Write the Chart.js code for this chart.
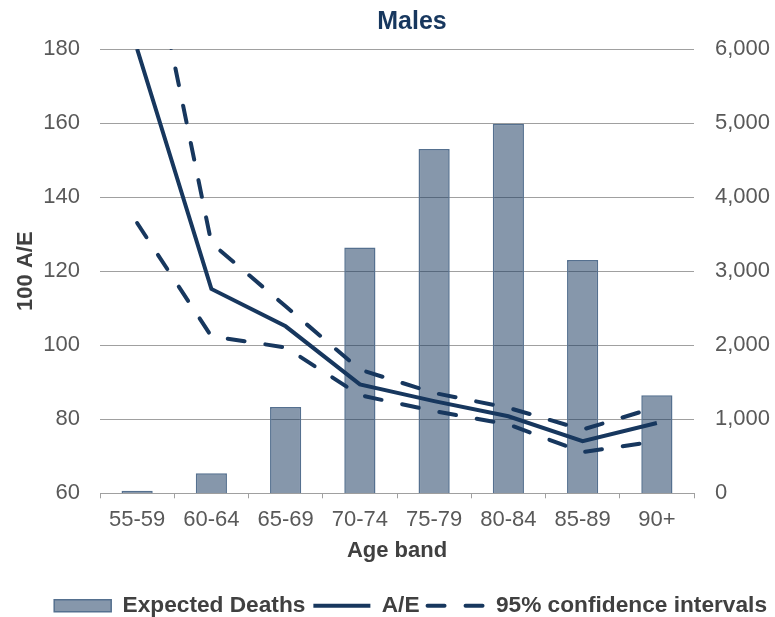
<!DOCTYPE html>
<html>
<head>
<meta charset="utf-8">
<script src="https://cdn.jsdelivr.net/npm/chart.js@4.4.1/dist/chart.umd.min.js"></script>
<style>
  html, body { margin: 0; padding: 0; background: #ffffff; }
  #wrap { width: 775px; height: 617px; }
</style>
</head>
<body>
<div id="wrap"><canvas id="chart" width="775" height="617"></canvas></div>
<script>
// Age bands on the category axis
const ageBands = ['55-59', '60-64', '65-69', '70-74', '75-79', '80-84', '85-89', '90+'];

// Expected deaths per band (right axis)
const expectedDeaths = [35, 270, 1165, 3320, 4650, 4990, 3150, 1325];

// Actual / expected x 100 with its 95% confidence band (left axis)
const aeRatio = [180, 115.2, 105.1, 89.4, 84.9, 80.8, 74.1, 79.0];
const ciUpper = [225, 127.6, 110.5, 93.4, 87.1, 83.1, 77.2, 83.3];
const ciLower = [133, 102.4, 99.4, 86.5, 82.2, 78.6, 71.1, 74.1];

// Tick values for both value axes
const aeTicks = [60, 80, 100, 120, 140, 160, 180];
const deathTicks = [0, 1000, 2000, 3000, 4000, 5000, 6000];

const FONT = '"Liberation Sans", Arial, Helvetica, sans-serif';
const NAVY = '#17375E';
const GRID = '#A0A0A0';
const TICK_TEXT = '#595959';
const LABEL_TEXT = '#404040';
const LINE_WIDTH = 4;

Chart.defaults.font.family = FONT;

// Chart heading, centred a little right of the plot centre
const headingPlugin = {
  id: 'heading',
  afterDraw(chart) {
    const { ctx, chartArea } = chart;
    ctx.save();
    ctx.font = 'bold 25px ' + FONT;
    ctx.fillStyle = NAVY;
    ctx.textAlign = 'center';
    ctx.textBaseline = 'middle';
    ctx.fillText('Males', (chartArea.left + chartArea.right) / 2 + 15, chartArea.top - 27);
    ctx.restore();
  }
};

const setTicks = (values) => (scale) => {
  scale.ticks = values.map(v => ({ value: v }));
};

new Chart(document.getElementById('chart'), {
  data: {
    labels: ageBands,
    datasets: [
      {
        type: 'bar',
        label: 'Expected Deaths',
        data: expectedDeaths,
        yAxisID: 'y2',
        backgroundColor: 'rgba(23, 55, 94, 0.52)',
        borderColor: '#55708F',
        borderWidth: 1.5,
        barPercentage: 0.42,
        categoryPercentage: 1,
        order: 1
      },
      {
        type: 'line',
        label: 'A/E',
        data: aeRatio,
        yAxisID: 'y',
        borderColor: NAVY,
        borderWidth: LINE_WIDTH,
        pointRadius: 0,
        tension: 0,
        fill: false,
        order: 0
      },
      {
        type: 'line',
        label: '95% confidence intervals',
        data: ciUpper,
        yAxisID: 'y',
        borderColor: NAVY,
        borderWidth: LINE_WIDTH,
        borderDash: [17, 21],
        borderCapStyle: 'round',
        pointRadius: 0,
        tension: 0,
        fill: false,
        order: 0
      },
      {
        type: 'line',
        label: '95% confidence intervals',
        data: ciLower,
        yAxisID: 'y',
        borderColor: NAVY,
        borderWidth: LINE_WIDTH,
        borderDash: [17, 21],
        borderCapStyle: 'round',
        pointRadius: 0,
        tension: 0,
        fill: false,
        order: 0
      }
    ]
  },
  options: {
    responsive: false,
    animation: false,
    devicePixelRatio: 1,
    layout: { padding: { top: 49, bottom: -10, left: 0, right: 0 } },
    plugins: {
      tooltip: { enabled: false },
      title: { display: false },
      legend: {
        position: 'bottom',
        align: 'end',
        labels: {
          usePointStyle: true,
          pointStyleWidth: 57,
          boxHeight: 12,
          padding: 8,
          color: LABEL_TEXT,
          font: { family: FONT, size: 22.7, weight: 'bold' },
          sort: (a, b) => a.datasetIndex - b.datasetIndex,
          filter: (item) => item.datasetIndex !== 3,
          generateLabels(chart) {
            const items = Chart.defaults.plugins.legend.labels.generateLabels(chart);
            items.forEach(item => {
              const ds = chart.data.datasets[item.datasetIndex];
              if (ds.type === 'bar') {
                item.pointStyle = 'rect';
                item.fillStyle = ds.backgroundColor;
                item.strokeStyle = ds.borderColor;
                item.lineWidth = ds.borderWidth;
                item.lineDash = [];
              } else {
                item.pointStyle = 'line';
                item.strokeStyle = ds.borderColor;
                item.lineWidth = ds.borderWidth;
                item.lineDash = ds.borderDash || [];
                item.lineCap = ds.borderCapStyle || 'butt';
              }
            });
            return items;
          }
        }
      }
    },
    scales: {
      x: {
        type: 'category',
        offset: true,
        grid: {
          offset: true,
          drawOnChartArea: false,
          drawTicks: true,
          tickLength: 5,
          color: GRID
        },
        border: { display: true, color: GRID, width: 1 },
        ticks: { color: TICK_TEXT, font: { size: 22 }, padding: 8, maxRotation: 0, autoSkip: false },
        title: {
          display: true,
          text: 'Age band',
          color: LABEL_TEXT,
          font: { size: 22, weight: 'bold' },
          padding: { top: 0, bottom: 21.8 }
        },
        afterFit(scale) { scale.height = 93; }
      },
      y: {
        position: 'left',
        min: 60,
        max: 180,
        afterBuildTicks: setTicks(aeTicks),
        grid: { color: GRID, drawTicks: false, lineWidth: 1 },
        border: { display: false },
        ticks: { color: TICK_TEXT, font: { size: 22 }, padding: 20 },
        title: {
          display: true,
          text: '100 A/E',
          color: LABEL_TEXT,
          font: { size: 22, weight: 'bold' },
          padding: { top: 12.8, bottom: 0 }
        },
        afterFit(scale) { scale.width = 100; }
      },
      y2: {
        position: 'right',
        min: 0,
        max: 6000,
        afterBuildTicks: setTicks(deathTicks),
        grid: { display: false, drawTicks: false },
        border: { display: false },
        ticks: {
          color: TICK_TEXT,
          font: { size: 22 },
          padding: 21,
          callback: (v) => Number(v).toLocaleString('en-US')
        },
        afterFit(scale) { scale.width = 81; }
      }
    }
  },
  plugins: [headingPlugin]
});
</script>
</body>
</html>
